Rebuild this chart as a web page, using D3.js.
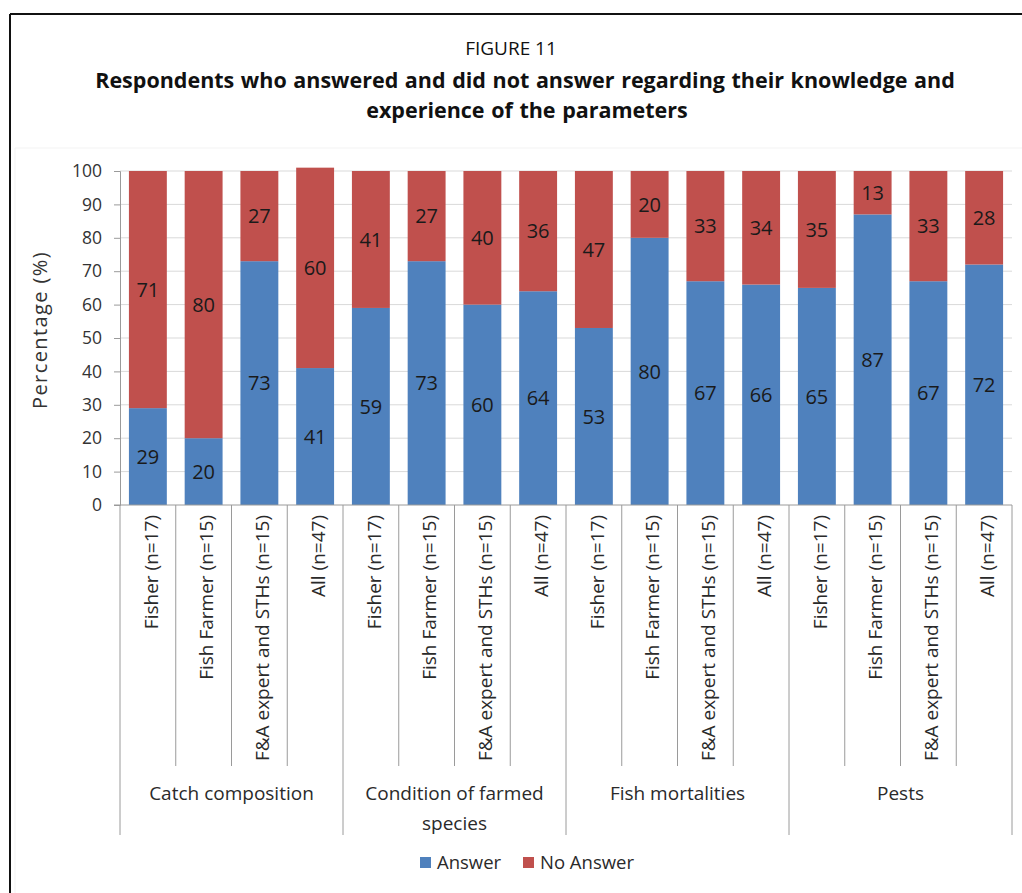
<!DOCTYPE html>
<html>
<head>
<meta charset="utf-8">
<script src="https://cdn.jsdelivr.net/npm/d3@7/dist/d3.min.js"></script>
<style>
  html, body { margin: 0; padding: 0; background: #fff; }
  svg { display: block; font-family: "Open Sans", "Noto Sans", sans-serif; }
</style>
</head>
<body>
<svg id="chart" width="1022" height="893"></svg>
<script>
// Parameter groups, each with four respondent types
const groups = ["Catch composition", "Condition of farmed species", "Fish mortalities", "Pests"];
const respondents = ["Fisher (n=17)", "Fish Farmer (n=15)", "F&A expert and STHs (n=15)", "All (n=47)"];

// Percentages per group, in respondent order
const answer   = [29, 20, 73, 41,  59, 73, 60, 64,  53, 80, 67, 66,  65, 87, 67, 72];
const noAnswer = [71, 80, 27, 60,  41, 27, 40, 36,  47, 20, 33, 34,  35, 13, 33, 28];

const yTicks = [0, 10, 20, 30, 40, 50, 60, 70, 80, 90, 100];
const seriesNames = ["Answer", "No Answer"];
const seriesColors = ["#4F81BD", "#C0504D"];

// Flattened rows used by the stack layout
const rows = [];
groups.forEach((g, gi) => respondents.forEach((r, ri) => {
  const i = gi * respondents.length + ri;
  rows.push({ key: i, group: g, resp: r, "Answer": answer[i], "No Answer": noAnswer[i] });
}));

const svg = d3.select("#chart");

// Outer frame
svg.append("line").attr("x1", 10).attr("y1", 14).attr("x2", 1022).attr("y2", 14)
  .attr("stroke", "#111").attr("stroke-width", 2);
svg.append("line").attr("x1", 10).attr("y1", 14).attr("x2", 10).attr("y2", 893)
  .attr("stroke", "#111").attr("stroke-width", 2);

// Faint chart-area border
svg.append("path").attr("d", "M15,893 V148 H1022")
  .attr("fill", "none").attr("stroke", "#f3f3f3");

// Titles
svg.append("text").attr("x", 511).attr("y", 55).attr("text-anchor", "middle")
  .attr("font-size", 19).attr("fill", "#111").text("FIGURE 11");
svg.append("text").attr("x", 525).attr("y", 88).attr("text-anchor", "middle")
  .attr("font-size", 21.5).attr("font-weight", "bold").attr("fill", "#111")
  .attr("word-spacing", 1)
  .text("Respondents who answered and did not answer regarding their knowledge and");
svg.append("text").attr("x", 527).attr("y", 118).attr("text-anchor", "middle")
  .attr("font-size", 21.5).attr("font-weight", "bold").attr("fill", "#111")
  .attr("word-spacing", 1)
  .text("experience of the parameters");

const plotLeft = 120, plotRight = 1012, plotTop = 171, plotBottom = 505;

const x = d3.scaleBand().domain(rows.map(d => d.key))
  .range([plotLeft, plotRight]).paddingInner(0.32).paddingOuter(0.16);
const y = d3.scaleLinear().domain([0, 100]).range([plotBottom, plotTop]);

// Gridlines
svg.append("g").selectAll("line").data(yTicks.filter(t => t > 0)).join("line")
  .attr("x1", plotLeft).attr("x2", plotRight)
  .attr("y1", d => y(d)).attr("y2", d => y(d))
  .attr("stroke", "#d9d9d9").attr("stroke-width", 1);

// Stacked bars
const stack = d3.stack().keys(seriesNames)(rows);
const layers = svg.append("g").selectAll("g").data(stack).join("g")
  .attr("fill", (d, i) => seriesColors[i]);
layers.selectAll("rect").data(d => d).join("rect")
  .attr("x", d => x(d.data.key))
  .attr("width", x.bandwidth())
  .attr("y", d => y(d[1]))
  .attr("height", d => y(d[0]) - y(d[1]));

// Value labels centred in each segment
stack.forEach(layer => {
  svg.append("g").selectAll("text").data(layer).join("text")
    .attr("x", d => x(d.data.key) + x.bandwidth() / 2)
    .attr("y", d => y((d[0] + d[1]) / 2))
    .attr("dy", "0.36em")
    .attr("text-anchor", "middle")
    .attr("font-size", 20).attr("fill", "#1a1a1a")
    .text(d => d.data[layer.key]);
});

// Y axis
const yAxis = d3.axisLeft(y).tickValues(yTicks).tickSize(6).tickPadding(12);
const gy = svg.append("g").attr("transform", `translate(${plotLeft},0)`).call(yAxis);
gy.select(".domain").attr("stroke", "#9a9a9a");
gy.selectAll(".tick line").attr("stroke", "#9a9a9a");
gy.selectAll(".tick text").attr("font-size", 17.5).attr("fill", "#333")
  .attr("font-family", "Open Sans, sans-serif");

svg.append("text")
  .attr("transform", "translate(40,330) rotate(-90)")
  .attr("text-anchor", "middle").attr("dy", "0.35em")
  .attr("font-size", 20).attr("letter-spacing", 1.4).attr("fill", "#333")
  .text("Percentage (%)");

// X axis baseline
svg.append("line").attr("x1", plotLeft - 6).attr("x2", plotRight)
  .attr("y1", plotBottom).attr("y2", plotBottom).attr("stroke", "#9a9a9a");

// Separators between respondent categories and between groups
const step = x.step();
const seps = d3.range(0, rows.length + 1);
svg.append("g").selectAll("line").data(seps).join("line")
  .attr("x1", i => plotLeft + i * step).attr("x2", i => plotLeft + i * step)
  .attr("y1", plotBottom)
  .attr("y2", i => (i % respondents.length === 0) ? 835 : 766)
  .attr("stroke", "#9a9a9a");

// Rotated respondent labels
svg.append("g").selectAll("text").data(rows).join("text")
  .attr("transform", d => `translate(${x(d.key) + x.bandwidth() / 2 + 3},515) rotate(-90)`)
  .attr("text-anchor", "end").attr("dy", "0.35em")
  .attr("font-size", 19).attr("fill", "#2a2a2a")
  .text(d => d.resp);

// Group labels, wrapped like the category axis does
const groupWidth = step * respondents.length;
const groupLines = [["Catch composition"], ["Condition of farmed", "species"], ["Fish mortalities"], ["Pests"]];
groups.forEach((g, gi) => {
  const cx = plotLeft + groupWidth * gi + groupWidth / 2;
  const t = svg.append("text")
    .attr("x", cx).attr("y", 800).attr("text-anchor", "middle")
    .attr("font-size", 19).attr("fill", "#2a2a2a");
  groupLines[gi].forEach((line, li) => {
    t.append("tspan").attr("x", cx).attr("dy", li === 0 ? 0 : 30).text(line);
  });
});

// Legend
const legend = svg.append("g");
const legendX = [420, 523];
seriesNames.forEach((name, i) => {
  legend.append("rect").attr("x", legendX[i]).attr("y", 857)
    .attr("width", 11).attr("height", 11).attr("fill", seriesColors[i]);
  legend.append("text").attr("x", legendX[i] + 17).attr("y", 869)
    .attr("font-size", 18.5).attr("fill", "#2a2a2a").text(name);
});
</script>
</body>
</html>
